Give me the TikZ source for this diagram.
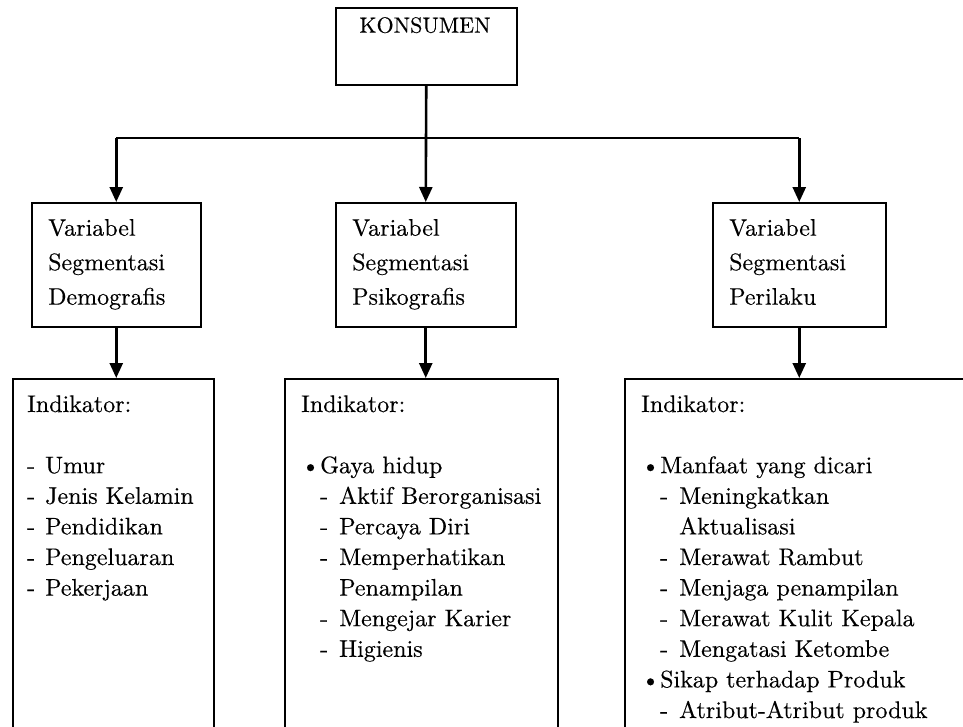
\documentclass[tikz,border=0pt]{standalone}
\usepackage{fontspec}
\setmainfont{lmroman10-regular.otf}[FakeBold=0.3]
\usetikzlibrary{arrows.meta}
\begin{document}
\begin{tikzpicture}[x=1pt,y=-1pt,
  box/.style={draw, line width=1.5pt, inner sep=0pt, anchor=north west},
  lbl/.style={inner sep=0pt, anchor=base west, align=left, font=\fontsize{24}{34.5}\selectfont},
  ind/.style={inner sep=0pt, anchor=base west, align=left, font=\fontsize{24}{30.6}\selectfont},
  arr/.style={line width=2.6pt, -{Triangle[length=15pt,width=13pt]}},
  busline/.style={line width=2pt}]
\clip (0,0) rectangle (963,726);
\fill[white] (0,0) rectangle (963,726);
% top box
\node[box, minimum width=181pt, minimum height=77pt] (kons) at (335,7) {};
\node[inner sep=0pt, anchor=base, font=\fontsize{22}{26}\selectfont] (konst) at (425,32.7) {KONSUMEN};
% variable boxes
\node[box, minimum width=169pt, minimum height=124pt] (dem) at (31,202) {};
\node[box, minimum width=180pt, minimum height=124pt] (psi) at (335,202) {};
\node[box, minimum width=173pt, minimum height=124pt] (per) at (712,202) {};
\node[lbl] (demt) at (48,304.7) {Variabel\\Segmentasi\\Demografis};
\node[lbl] (psit) at (352,304.7) {Variabel\\Segmentasi\\Psikografis};
\node[lbl] (pert) at (729,304.7) {Variabel\\Segmentasi\\Perilaku};
% indicator boxes
\node[box, minimum width=201pt, minimum height=400pt] (ind1) at (12,378) {};
\node[box, minimum width=273pt, minimum height=400pt] (ind2) at (284,378) {};
\node[box, minimum width=400pt, minimum height=400pt] (ind3) at (624,378) {};
\node[ind] (ind1t) at (27,595.6) {Indikator:\\[30.6pt]
\makebox[18pt][l]{-}Umur\\
\makebox[18pt][l]{-}Jenis Kelamin\\
\makebox[18pt][l]{-}Pendidikan\\
\makebox[18pt][l]{-}Pengeluaran\\
\makebox[18pt][l]{-}Pekerjaan};
\node[ind] (ind2t) at (301,656.8) {Indikator:\\[30.6pt]
\makebox[19pt][l]{\textbullet}Gaya hidup\\
\hspace*{19pt}\makebox[19pt][l]{-}Aktif Berorganisasi\\
\hspace*{19pt}\makebox[19pt][l]{-}Percaya Diri\\
\hspace*{19pt}\makebox[19pt][l]{-}Memperhatikan\\
\hspace*{38pt}Penampilan\\
\hspace*{19pt}\makebox[19pt][l]{-}Mengejar Karier\\
\hspace*{19pt}\makebox[19pt][l]{-}Higienis};
\node[ind] (ind3t) at (641,718) {Indikator:\\[30.6pt]
\makebox[19pt][l]{\textbullet}Manfaat yang dicari\\
\hspace*{19pt}\makebox[19pt][l]{-}Meningkatkan\\
\hspace*{38pt}Aktualisasi\\
\hspace*{19pt}\makebox[19pt][l]{-}Merawat Rambut\\
\hspace*{19pt}\makebox[19pt][l]{-}Menjaga penampilan\\
\hspace*{19pt}\makebox[19pt][l]{-}Merawat Kulit Kepala\\
\hspace*{19pt}\makebox[19pt][l]{-}Mengatasi Ketombe\\
\makebox[19pt][l]{\textbullet}Sikap terhadap Produk\\
\hspace*{19pt}\makebox[19pt][l]{-}Atribut-Atribut produk};
% connectors
\coordinate (bus) at (427,138);
\draw[busline] (dem.north |- bus) -- (per.north |- bus);
\draw[arr] (kons.south) -- (psi.north);
\draw[arr] (dem.north |- bus) -- (dem.north);
\draw[arr] (per.north |- bus) -- (per.north);
\draw[arr] (dem.south) -- (dem.south |- ind1.north);
\draw[arr] (psi.south) -- (psi.south |- ind2.north);
\draw[arr] (per.south) -- (per.south |- ind3.north);
\end{tikzpicture}
\end{document}
